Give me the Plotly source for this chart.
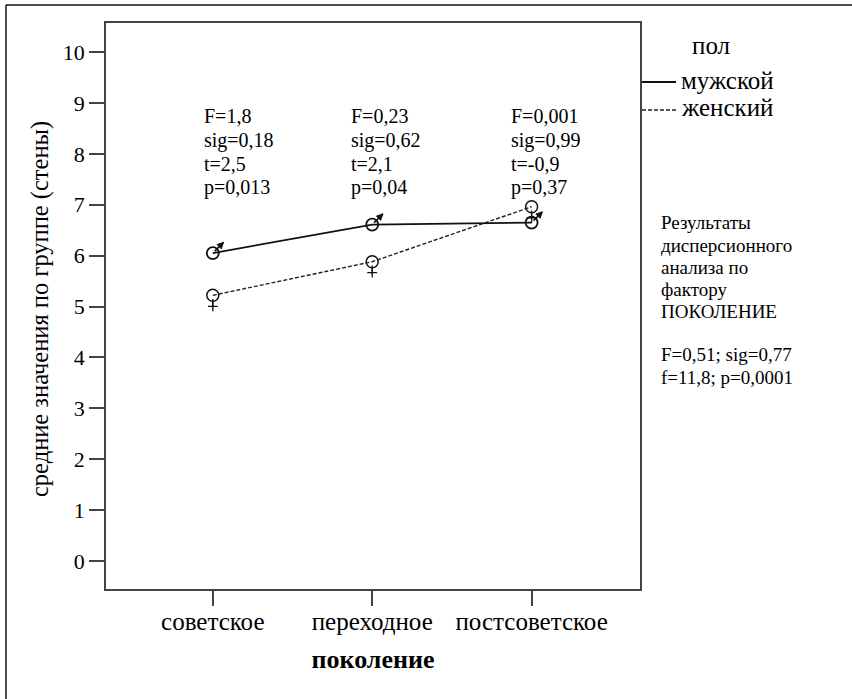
import plotly.graph_objects as go

categories = ["советское", "переходное", "постсоветское"]
male = [6.05, 6.61, 6.65]
female = [5.22, 5.88, 6.96]
series_names = ["мужской", "женский"]
legend_title = "пол"
stats = [
    ["F=1,8", "sig=0,18", "t=2,5", "p=0,013"],
    ["F=0,23", "sig=0,62", "t=2,1", "p=0,04"],
    ["F=0,001", "sig=0,99", "t=-0,9", "p=0,37"],
]
anova_lines = ["Результаты", "дисперсионного", "анализа по", "фактору", "ПОКОЛЕНИЕ", "",
               "F=0,51; sig=0,77", "f=11,8; p=0,0001"]
y_ticks = list(range(0, 11))
x_title = "поколение"
y_title = "средние значения по группе (стены)"

SERIF = "Liberation Serif"
W, H = 852, 699
L, R, T, B = 106, 212, 23, 110
PW, PH = W - L - R, H - T - B

def px_x(p):
    return (p - L) / PW

def px_y(p):
    return (H - B - p) / PH

xi = list(range(len(categories)))
fig = go.Figure()
INK = "#000"
line_styles = [dict(color="#111", width=1.8), dict(color="#222", width=1.4, dash="4px,2px")]

fig.add_trace(go.Scatter(x=xi, y=male, mode="lines", name=series_names[0], showlegend=False,
                         line=line_styles[0]))
fig.add_trace(go.Scatter(x=xi, y=female, mode="lines", name=series_names[1], showlegend=False,
                         line=line_styles[1]))

def mk(y, **m):
    fig.add_trace(go.Scatter(x=xi, y=y, mode="markers", showlegend=False, hoverinfo="skip", marker=m))

M = "#111"
# male symbol: circle + arrow to upper right
mk(male, symbol="line-ns", size=9, angle=225, standoff=9, color=M, line=dict(color=M, width=1.6))
mk(male, symbol="arrow-down", size=6, angle=225, standoff=15, color=M, line=dict(color=M, width=1))
mk(male, symbol="circle-open", size=12, color=M, line=dict(color=M, width=1.8))
# female symbol: circle + cross below
mk(female, symbol="cross-thin-open", size=7, angle=0, standoff=11, color=M, line=dict(color=M, width=1.3))
mk(female, symbol="line-ns", size=6, angle=0, standoff=8, color=M, line=dict(color=M, width=1.3))
mk(female, symbol="circle-open", size=12, color=M, line=dict(color=M, width=1.5))

annotations = []
stat_offsets = [-0.07, -0.145, -0.14]
stat_rows_px = [116, 140, 164, 188]
for i, block in enumerate(stats):
    for j, line in enumerate(block):
        annotations.append(dict(x=xi[i] + stat_offsets[i], xref="x", y=px_y(stat_rows_px[j]), yref="paper",
                                text=line, showarrow=False, xanchor="left", yanchor="middle",
                                font=dict(family=SERIF, size=20, color=INK)))
for j, line in enumerate(anova_lines):
    if not line:
        continue
    annotations.append(dict(x=px_x(659), xref="paper", y=px_y(223 + 22 * j), yref="paper",
                            text=line, showarrow=False, xanchor="left", yanchor="middle",
                            font=dict(family=SERIF, size=19, color=INK)))
# y axis title
annotations.append(dict(x=px_x(40), xref="paper", y=px_y(309), yref="paper", text=y_title,
                        textangle=-90, showarrow=False, xanchor="center", yanchor="middle",
                        font=dict(family=SERIF, size=24.5, color=INK)))
# manual legend
annotations.append(dict(x=px_x(711), xref="paper", y=px_y(45), yref="paper", text=legend_title,
                        showarrow=False, xanchor="center", yanchor="middle",
                        font=dict(family=SERIF, size=25, color=INK)))
shapes = []
legend_rows_px = [80, 108]
for k, name in enumerate(series_names):
    yy = px_y(legend_rows_px[k])
    annotations.append(dict(x=px_x(679), xref="paper", y=yy, yref="paper", text=name,
                            showarrow=False, xanchor="left", yanchor="middle",
                            font=dict(family=SERIF, size=25, color=INK)))
    shapes.append(dict(type="line", xref="paper", yref="paper", x0=px_x(642), x1=px_x(676),
                       y0=px_y(legend_rows_px[k] + 2), y1=px_y(legend_rows_px[k] + 2), line=line_styles[k]))

shapes += [
    dict(type="line", xref="paper", yref="paper", x0=px_x(6), x1=px_x(6), y0=px_y(H + 5), y1=px_y(5),
         line=dict(color="#111", width=1.5)),
    dict(type="line", xref="paper", yref="paper", x0=px_x(6), x1=px_x(W + 5), y0=px_y(5), y1=px_y(5),
         line=dict(color="#111", width=1.5)),
]

fig.update_layout(
    width=W, height=H,
    margin=dict(l=L, r=R, t=T, b=B, pad=0),
    paper_bgcolor="white", plot_bgcolor="white",
    font=dict(family=SERIF, color=INK),
    annotations=annotations, shapes=shapes,
    showlegend=False,
)
fig.update_xaxes(
    tickmode="array", tickvals=xi, ticktext=categories, range=[-0.67, 2.68],
    showline=True, mirror=True, linecolor="#444", linewidth=1.5,
    ticks="outside", ticklen=15, tickwidth=1.5, tickcolor="#444",
    ticklabelstandoff=-6,
    showgrid=False, zeroline=False,
    tickfont=dict(family=SERIF, size=25, color=INK),
    title=dict(text="<b>" + x_title + "</b>", font=dict(family=SERIF, size=26, color=INK), standoff=16),
)
fig.update_yaxes(
    tickmode="array", tickvals=y_ticks, range=[-0.55, 10.57],
    showline=True, mirror=True, linecolor="#444", linewidth=1.5,
    ticks="outside", ticklen=15, tickwidth=1.5, tickcolor="#444",
    showgrid=False, zeroline=False,
    tickfont=dict(family=SERIF, size=22, color=INK),
)

fig.write_html("out.html", config={"displayModeBar": False},
               post_script="document.body.style.margin='0';document.body.style.overflow='hidden';")
